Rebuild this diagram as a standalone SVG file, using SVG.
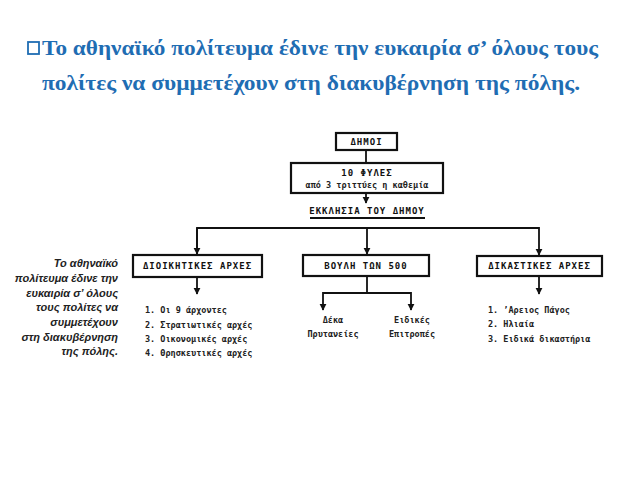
<svg xmlns="http://www.w3.org/2000/svg" width="638" height="479" viewBox="0 0 638 479">
<style>
.t{font-family:"Liberation Serif","DejaVu Serif",serif;font-weight:bold;font-size:20px;fill:#1f6db3}
.b{fill:#fff;stroke:#111;stroke-width:2.2}
.bl{font-family:"DejaVu Sans Mono","Liberation Mono",monospace;font-weight:bold;font-size:9px;fill:#111;letter-spacing:1px}
.s{font-family:"DejaVu Sans Mono","Liberation Mono",monospace;font-weight:bold;font-size:8.5px;fill:#222}
.side{font-family:"Liberation Sans",Arial,sans-serif;font-style:italic;font-weight:bold;font-size:11px;fill:#222;text-anchor:end}
.c{stroke:#111;stroke-width:1.8;fill:none}
</style>
<defs><marker id="a" viewBox="0 0 10 10" refX="9" refY="5" markerWidth="4" markerHeight="5" orient="auto"><path d="M0 0L10 5L0 10z" fill="#111"/></marker></defs>
<rect width="638" height="479" fill="#fff"/>
<g id="title">
<rect x="28" y="42" width="11" height="12" fill="none" stroke="#1f6db3" stroke-width="1.8"/>
<text class="t" x="42" y="55" textLength="556" lengthAdjust="spacingAndGlyphs">Το αθηναϊκό πολίτευμα έδινε την ευκαιρία σ’ όλους τους</text>
<text class="t" x="42" y="90" textLength="538" lengthAdjust="spacingAndGlyphs">πολίτες να συμμετέχουν στη διακυβέρνηση της πόλης.</text>
</g>
<g id="connectors">
<path class="c" d="M366 150V162"/>
<path class="c" d="M366 193V203" marker-end="url(#a)"/>
<path class="c" d="M310 218H425" stroke-width="1.4"/>
<path class="c" d="M197 254V228H539V255" marker-end="url(#a)"/>
<path class="c" d="M197 228V254" marker-end="url(#a)"/>
<path class="c" d="M367 228V254" marker-end="url(#a)"/>
<path class="c" d="M197 277V294" marker-end="url(#a)"/>
<path class="c" d="M367 276V293H323V310" marker-end="url(#a)"/>
<path class="c" d="M367 293H411V310" marker-end="url(#a)"/>
<path class="c" d="M539 276V294" marker-end="url(#a)"/>
</g>
<g id="dimoi"><rect class="b" x="336" y="133" width="61" height="17"/><text class="bl" x="366.5" y="145" text-anchor="middle">ΔΗΜΟΙ</text></g>
<g id="fyles"><rect class="b" x="291" y="163" width="152" height="30"/><text class="bl" x="367" y="176" text-anchor="middle">10  ΦΥΛΕΣ</text><text class="s" x="367" y="188" text-anchor="middle">από 3 τριττύες η καθεμία</text></g>
<g id="ekklisia"><text class="bl" x="367" y="214" text-anchor="middle">ΕΚΚΛΗΣΙΑ ΤΟΥ ΔΗΜΟΥ</text></g>
<g id="dioik"><rect class="b" x="133" y="255" width="129" height="22"/><text class="bl" x="197.5" y="269" text-anchor="middle">ΔΙΟΙΚΗΤΙΚΕΣ ΑΡΧΕΣ</text></g>
<g id="vouli"><rect class="b" x="303" y="255" width="126" height="21"/><text class="bl" x="366" y="269" text-anchor="middle">ΒΟΥΛΗ ΤΩΝ 500</text></g>
<g id="dikast"><rect class="b" x="477" y="256" width="125" height="20"/><text class="bl" x="539.5" y="269" text-anchor="middle">ΔΙΚΑΣΤΙΚΕΣ ΑΡΧΕΣ</text></g>
<g id="dioik-list" class="s">
<text x="145" y="313">1. Οι 9 άρχοντες</text>
<text x="145" y="328">2. Στρατιωτικές αρχές</text>
<text x="145" y="342">3. Οικονομικές αρχές</text>
<text x="145" y="356">4. Θρησκευτικές αρχές</text>
</g>
<g id="vouli-list" class="s" text-anchor="middle">
<text x="333" y="323">Δέκα</text><text x="333" y="337">Πρυτανείες</text>
<text x="412" y="323">Ειδικές</text><text x="412" y="337">Επιτροπές</text>
</g>
<g id="dikast-list" class="s">
<text x="488" y="313">1. ’Αρειος Πάγος</text>
<text x="488" y="327">2. Ηλιαία</text>
<text x="488" y="342">3. Ειδικά δικαστήρια</text>
</g>
<g id="side">
<text class="side" x="118" y="267">Το αθηναϊκό</text>
<text class="side" x="118" y="282">πολίτευμα έδινε την</text>
<text class="side" x="118" y="297">ευκαιρία σ’ όλους</text>
<text class="side" x="118" y="311">τους πολίτες να</text>
<text class="side" x="118" y="326">συμμετέχουν</text>
<text class="side" x="118" y="341">στη διακυβέρνηση</text>
<text class="side" x="118" y="355">της πόλης.</text>
</g>
</svg>
